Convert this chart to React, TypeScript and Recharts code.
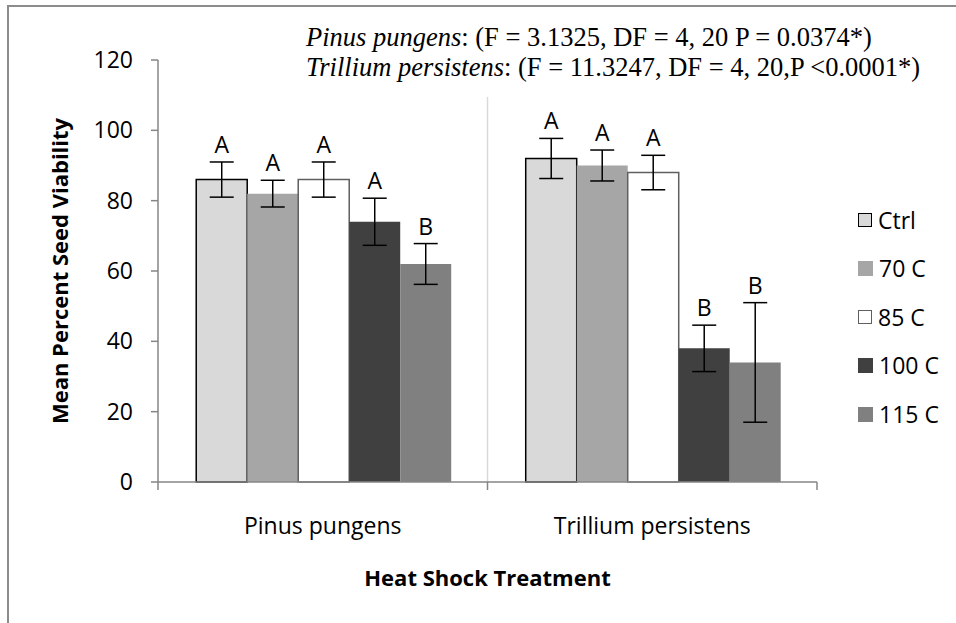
import React from 'react';
import { BarChart, Bar, XAxis, YAxis, CartesianGrid, ErrorBar, LabelList, Legend, Label } from 'recharts';

// ---- Data ----
const categories = ['Pinus pungens', 'Trillium persistens'];
const seriesNames = ['Ctrl', '70 C', '85 C', '100 C', '115 C'];
const ctrlMeans = [86, 92];
const c70Means = [82, 90];
const c85Means = [86, 88];
const c100Means = [74, 38];
const c115Means = [62, 34];
const ctrlErr = [5, 5.7];
const c70Err = [3.8, 4.4];
const c85Err = [5, 4.9];
const c100Err = [6.7, 6.6];
const c115Err = [5.8, 17];
const ctrlLetters = ['A', 'A'];
const c70Letters = ['A', 'A'];
const c85Letters = ['A', 'A'];
const c100Letters = ['A', 'B'];
const c115Letters = ['B', 'B'];
const yTicks = [0, 20, 40, 60, 80, 100, 120];

const means = [ctrlMeans, c70Means, c85Means, c100Means, c115Means];
const errs = [ctrlErr, c70Err, c85Err, c100Err, c115Err];
const letters = [ctrlLetters, c70Letters, c85Letters, c100Letters, c115Letters];

const data = categories.map((cat, i) => {
  const row: any = { category: cat };
  seriesNames.forEach((_, s) => {
    row['m' + s] = means[s][i];
    row['e' + s] = errs[s][i];
    row['l' + s] = letters[s][i];
  });
  return row;
});

// ---- Styles ----
const FONT = '"Open Sans", sans-serif';
const seriesStyles = [
  { fill: '#d9d9d9', stroke: '#000000', strokeWidth: 1.5 },
  { fill: '#a6a6a6', stroke: 'none', strokeWidth: 0 },
  { fill: '#ffffff', stroke: '#5f5f5f', strokeWidth: 1.5 },
  { fill: '#404040', stroke: 'none', strokeWidth: 0 },
  { fill: '#808080', stroke: 'none', strokeWidth: 0 },
];
const AXIS_COLOR = '#868686';

function CategoryTick(props: any) {
  const { x, y, payload, index, visibleTicksCount, width } = props;
  const half = width / visibleTicksCount / 2;
  return (
    <g>
      <line x1={x - half} x2={x - half} y1={y} y2={y + 8} stroke={AXIS_COLOR} strokeWidth={1.5} />
      {index === visibleTicksCount - 1 && (
        <line x1={x + half} x2={x + half} y1={y} y2={y + 8} stroke={AXIS_COLOR} strokeWidth={1.5} />
      )}
      <text x={x} y={y + 43} textAnchor="middle" dominantBaseline="central" fontFamily={FONT} fontSize={23} fill="#000">
        {payload.value}
      </text>
    </g>
  );
}

function makeLetterLabel(s: number) {
  return (props: any) => {
    const { x, y, width, height, index, value } = props;
    const m = means[s][index];
    const ppu = height / m;
    const top = y - errs[s][index] * ppu;
    return (
      <text x={x + width / 2} y={top - 18} textAnchor="middle" dominantBaseline="central" fontFamily={FONT} fontSize={23} fill="#000">
        {value}
      </text>
    );
  };
}

function LegendContent() {
  return (
    <div style={{ fontFamily: FONT, fontSize: 23, color: '#000' }}>
      {seriesNames.map((name, s) => {
        const st = seriesStyles[s];
        return (
          <div key={name} style={{ display: 'flex', alignItems: 'center', height: 48.5 }}>
            <div
              style={{
                width: st.stroke === 'none' ? 15 : 12,
                height: st.stroke === 'none' ? 15 : 12,
                background: st.fill,
                border: st.stroke === 'none' ? 'none' : `1.5px solid ${st.stroke}`,
                marginRight: 6,
              }}
            />
            <span style={{ lineHeight: '23px' }}>{name}</span>
          </div>
        );
      })}
    </div>
  );
}

export default function App() {
  return (
    <div style={{ position: 'absolute', left: 0, top: 0, width: 956, height: 623, overflow: 'hidden', background: '#fff' }}>
      <div
        style={{
          position: 'absolute', left: 7, top: 5, width: 1000, height: 700,
          borderTop: '2px solid #8c8c8c', borderLeft: '2px solid #8c8c8c',
        }}
      />
      <div style={{ position: 'absolute', left: 0, top: 0 }}>
        <BarChart
          width={956}
          height={623}
          data={data}
          margin={{ top: 60, right: 39, bottom: 0, left: 0 }}
          barCategoryGap="11.6%"
          barGap={0}
        >
          <CartesianGrid
            horizontal={false}
            vertical
            stroke="#d9d9d9"
            strokeWidth={1.5}
            verticalCoordinatesGenerator={({ offset }: any) => [offset.left + offset.width / 2]}
          />
          <YAxis
            width={158}
            domain={[0, 120]}
            ticks={yTicks}
            interval={0}
            tickSize={7}
            tickMargin={18}
            axisLine={{ stroke: AXIS_COLOR, strokeWidth: 1.5 }}
            tickLine={{ stroke: AXIS_COLOR, strokeWidth: 1.5 }}
            tick={{ fill: '#000', fontSize: 23, fontFamily: FONT }}
          >
            <Label
              content={(p: any) => {
                const vb = p.viewBox;
                const cx = 59;
                const cy = vb.y + vb.height / 2;
                return (
                  <text x={cx} y={cy} transform={`rotate(-90 ${cx} ${cy})`} textAnchor="middle" dominantBaseline="central" fontFamily={FONT} fontWeight="bold" fontSize={22} fill="#000">
                    Mean Percent Seed Viability
                  </text>
                );
              }}
            />
          </YAxis>
          <XAxis
            dataKey="category"
            height={141}
            tickSize={0}
            tickMargin={0}
            interval={0}
            axisLine={{ stroke: AXIS_COLOR, strokeWidth: 1.5 }}
            tick={<CategoryTick />}
          >
            <Label
              content={(p: any) => {
                const vb = p.viewBox;
                return (
                  <text x={vb.x + vb.width / 2} y={vb.y + 95} textAnchor="middle" dominantBaseline="central" fontFamily={FONT} fontWeight="bold" fontSize={22} fill="#000">
                    Heat Shock Treatment
                  </text>
                );
              }}
            />
          </XAxis>
          <Legend
            layout="vertical"
            align="right"
            verticalAlign="top"
            content={<LegendContent />}
            wrapperStyle={{ left: 858, top: 196, width: 100 }}
          />
          {seriesNames.map((name, s) => (
            <Bar
              key={name}
              dataKey={'m' + s}
              name={name}
              fill={seriesStyles[s].fill}
              stroke={seriesStyles[s].stroke}
              strokeWidth={seriesStyles[s].strokeWidth}
              isAnimationActive={false}
            >
              <ErrorBar dataKey={'e' + s} width={12} stroke="#000" strokeWidth={1.5} direction="y" />
              <LabelList dataKey={'l' + s} content={makeLetterLabel(s)} />
            </Bar>
          ))}
        </BarChart>
      </div>
      <div
        style={{
          position: 'absolute', left: 300, top: 22, height: 75, paddingLeft: 6, paddingRight: 4,
          background: '#fff', fontFamily: '"Liberation Serif", "Times New Roman", serif', fontSize: 26.5,
          lineHeight: '30px', color: '#000', whiteSpace: 'nowrap',
        }}
      >
        <div><i>Pinus pungens</i>: (F = 3.1325, DF = 4, 20 P = 0.0374*)</div>
        <div><i>Trillium persistens</i>: (F = 11.3247, DF = 4, 20,P &lt;0.0001*)</div>
      </div>
    </div>
  );
}
